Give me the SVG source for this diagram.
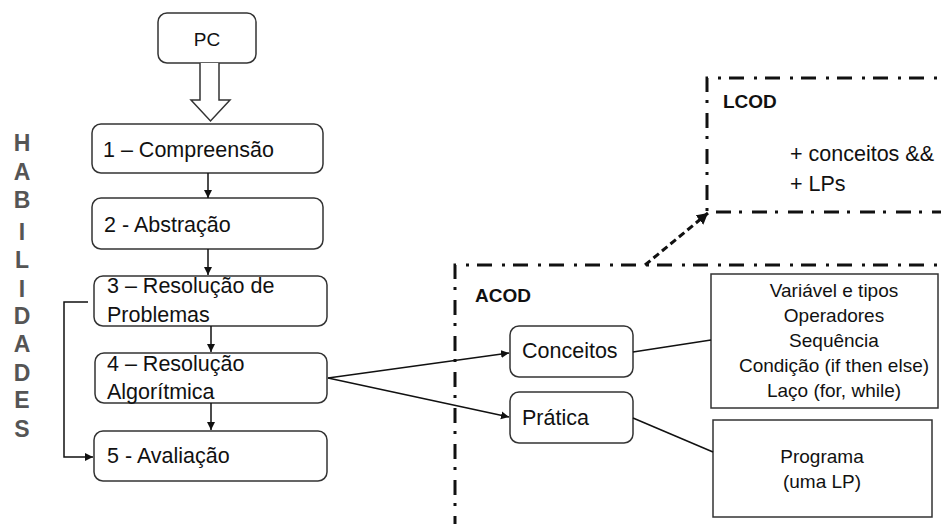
<svg xmlns="http://www.w3.org/2000/svg" width="941" height="524" viewBox="0 0 941 524">
<defs>
<style>
.box{fill:#fff;stroke:#333;stroke-width:1.5}
.sq{fill:#fff;stroke:#333;stroke-width:1.5}
.t{font-family:"Liberation Sans",Arial,sans-serif;font-size:21.5px;fill:#111}
.s{font-family:"Liberation Sans",Arial,sans-serif;font-size:19px;fill:#111}
.b{font-family:"Liberation Sans",Arial,sans-serif;font-size:19px;font-weight:bold;fill:#111}
.hab{font-family:"Liberation Sans",Arial,sans-serif;font-size:23px;font-weight:bold;fill:#555;text-anchor:middle}
.ln{fill:none;stroke:#111;stroke-width:1.5}
.dd{fill:none;stroke:#111;stroke-width:3;stroke-dasharray:15 8 3 10}
</style>
<marker id="ah" markerUnits="userSpaceOnUse" markerWidth="10" markerHeight="10" refX="8" refY="4" orient="auto">
<path d="M0,0 L8,4 L0,8 z" fill="#111"/>
</marker>
<marker id="ah2" markerUnits="userSpaceOnUse" markerWidth="14" markerHeight="14" refX="11" refY="6" orient="auto">
<path d="M0,0 L11,6 L0,12 z" fill="#111"/>
</marker>
</defs>

<g id="habilidades">
<text class="hab" x="22" y="151">H</text>
<text class="hab" x="22" y="180">A</text>
<text class="hab" x="22" y="208">B</text>
<text class="hab" x="22" y="240">I</text>
<text class="hab" x="22" y="268">L</text>
<text class="hab" x="22" y="297">I</text>
<text class="hab" x="22" y="324">D</text>
<text class="hab" x="22" y="352">A</text>
<text class="hab" x="22" y="381">D</text>
<text class="hab" x="22" y="408">E</text>
<text class="hab" x="22" y="437">S</text>
</g>

<g id="pc">
<rect class="box" x="158" y="13" width="98" height="50" rx="9"/>
<text class="s" x="207" y="46" text-anchor="middle">PC</text>
</g>

<g id="pc-arrow">
<path d="M200,63 V100 H191 L210.5,121 L230,100 H219 V63" fill="#fff" stroke="#333" stroke-width="1.5"/>
</g>

<g id="n1">
<rect class="box" x="92" y="124" width="231" height="49" rx="9"/>
<text class="t" x="103" y="157">1 – Compreensão</text>
</g>
<g id="n2">
<rect class="box" x="92" y="198" width="231" height="51" rx="9"/>
<text class="t" x="104" y="232">2 - Abstração</text>
</g>
<g id="n3">
<rect class="box" x="94" y="276" width="233" height="50" rx="9"/>
<text class="t" x="107" y="293">3 – Resolução de</text>
<text class="t" x="107" y="322">Problemas</text>
</g>
<g id="n4">
<rect class="box" x="95" y="353" width="232" height="50" rx="9"/>
<text class="t" x="107" y="371">4 – Resolução</text>
<text class="t" x="107" y="399">Algorítmica</text>
</g>
<g id="n5">
<rect class="box" x="94" y="431" width="233" height="50" rx="9"/>
<text class="t" x="107" y="463">5 - Avaliação</text>
</g>

<g id="lcod">
<path class="dd" d="M960,78 H707 V212 H960"/>
<text class="b" x="723" y="108">LCOD</text>
<text class="t" x="790" y="161">+ conceitos &amp;&amp;</text>
<text class="t" x="790" y="191">+ LPs</text>
</g>

<g id="acod">
<path class="dd" d="M960,265 H455 V540"/>
<text class="b" x="475" y="302">ACOD</text>
</g>

<g id="conceitos">
<rect class="box" x="510" y="326" width="123" height="51" rx="9"/>
<text class="t" x="522" y="358">Conceitos</text>
</g>
<g id="pratica">
<rect class="box" x="510" y="392" width="123" height="51" rx="9"/>
<text class="t" x="522" y="425">Prática</text>
</g>

<g id="lista">
<rect class="sq" x="711" y="274" width="227" height="134"/>
<text class="s" x="834" y="297" text-anchor="middle">Variável e tipos</text>
<text class="s" x="834" y="322" text-anchor="middle">Operadores</text>
<text class="s" x="834" y="347" text-anchor="middle">Sequência</text>
<text class="s" x="834" y="372" text-anchor="middle">Condição (if then else)</text>
<text class="s" x="834" y="397" text-anchor="middle">Laço (for, while)</text>
</g>

<g id="programa">
<rect class="sq" x="713" y="420" width="219" height="97"/>
<text class="s" x="822" y="463" text-anchor="middle">Programa</text>
<text class="s" x="822" y="488" text-anchor="middle">(uma LP)</text>
</g>

<g id="connectors">
<line class="ln" x1="208" y1="173" x2="208" y2="198" marker-end="url(#ah)"/>
<line class="ln" x1="208" y1="249" x2="208" y2="275" marker-end="url(#ah)"/>
<line class="ln" x1="211" y1="326" x2="211" y2="352" marker-end="url(#ah)"/>
<line class="ln" x1="211" y1="403" x2="211" y2="430" marker-end="url(#ah)"/>
<path class="ln" d="M88,302 H64 V457 H93" marker-end="url(#ah)"/>
<line class="ln" x1="328" y1="378" x2="509" y2="353" marker-end="url(#ah)"/>
<line class="ln" x1="328" y1="378" x2="509" y2="417" marker-end="url(#ah)"/>
<line class="ln" x1="633" y1="352" x2="711" y2="340"/>
<line class="ln" x1="633" y1="418" x2="713" y2="452"/>
<line x1="645" y1="265" x2="708" y2="213" stroke="#111" stroke-width="3" stroke-dasharray="7 4" marker-end="url(#ah2)"/>
</g>
</svg>
